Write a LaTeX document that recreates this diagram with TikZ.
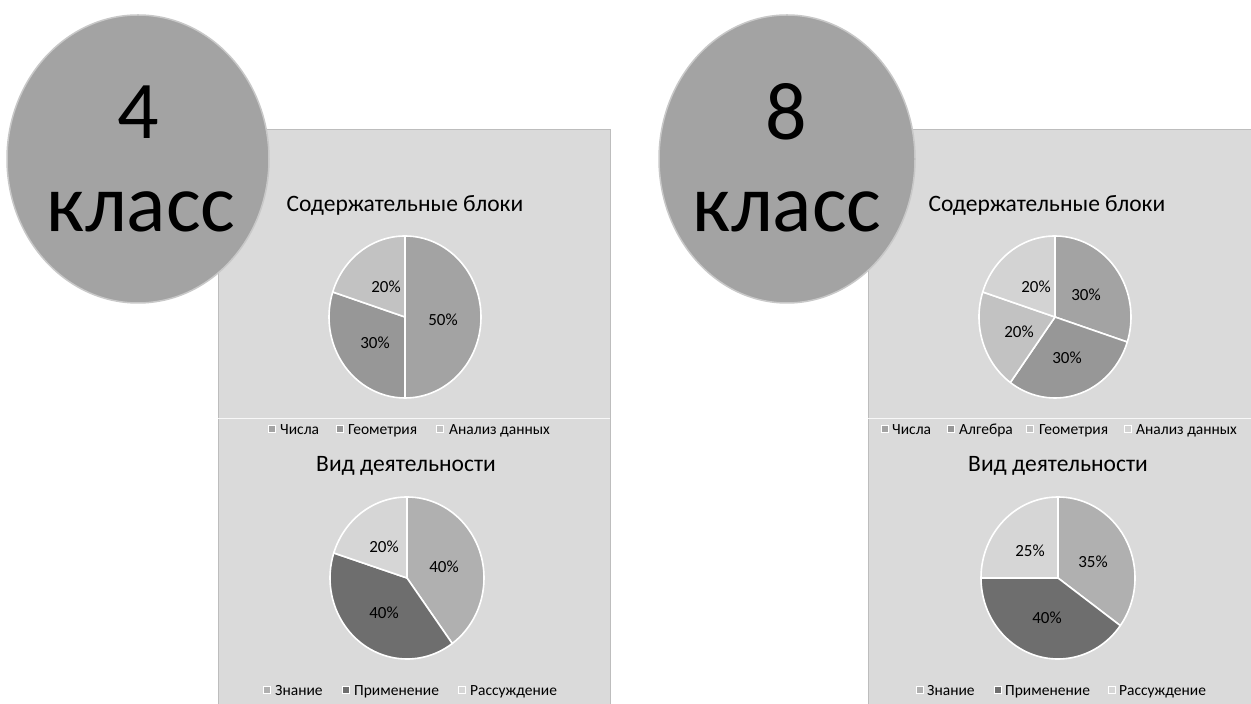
\documentclass[tikz,border=0pt]{standalone}
\usepackage{fontspec}
\setmainfont{Carlito}
\usepackage{tikz}
\definecolor{panel_gray}{HTML}{DADADA}
\definecolor{panel_edge}{HTML}{BDBDBD}
\definecolor{oval_gray}{HTML}{A3A3A3}
\definecolor{oval_edge}{HTML}{C8C8C8}
\definecolor{num_gray}{HTML}{A3A3A3}
\definecolor{alg_gray}{HTML}{979797}
\definecolor{geo_gray}{HTML}{C2C2C2}
\definecolor{data_gray}{HTML}{D3D3D3}
\definecolor{know_gray}{HTML}{B0B0B0}
\definecolor{apply_gray}{HTML}{6E6E6E}
\definecolor{reason_gray}{HTML}{D6D6D6}

\begin{document}
\begin{tikzpicture}[x=1pt, y=1pt,
  every node/.style={font=\fontsize{15.5}{18}\selectfont, inner sep=0pt},
  slice/.style={draw=white, line width=1.6pt, line join=round},
  share/.style={font=\fontsize{17}{20}\selectfont},
  key/.style={minimum size=7pt, inner sep=0pt, draw=white, line width=0.4pt},
  entry/.style={anchor=base west},
  title/.style={font=\fontsize{23.5}{28}\selectfont},
  big/.style={font=\fontsize{82}{90}\selectfont}]

  \useasboundingbox (0,0) rectangle (1251,704);
  \fill[white] (0,0) rectangle (1251,704);

  % Left panel: 4 класс
  \filldraw[fill=panel_gray, draw=panel_edge, line width=1pt] (218,-2) rectangle (610,574);
  \draw[white!80!panel_gray, line width=1pt] (218,285) -- (610,285);

  \filldraw[fill=oval_gray, draw=oval_edge, line width=1.5pt] (138,545) ellipse [x radius=131pt, y radius=144pt];
  \node[big] (g4) at (138,592) {4};
  \node[big] (k4) at (141,492) {класс};

  \node[title] (t4a) at (405,499) {Содержательные блоки};
  \coordinate (p4a) at (405,387);
  \filldraw[slice, fill=num_gray] (p4a) -- ++(90:76pt and 81pt)
    arc[start angle=90, end angle=-90, x radius=76pt, y radius=81pt] -- cycle;
  \filldraw[slice, fill=alg_gray] (p4a) -- ++(-90:76pt and 81pt)
    arc[start angle=-90, end angle=-198, x radius=76pt, y radius=81pt] -- cycle;
  \filldraw[slice, fill=geo_gray] (p4a) -- ++(162:76pt and 81pt)
    arc[start angle=162, end angle=90, x radius=76pt, y radius=81pt] -- cycle;
  \node[share] (v4a1) at (443,384) {50\%};
  \node[share] (v4a2) at (375,361) {30\%};
  \node[share] (v4a3) at (386,417) {20\%};

  \node[key, fill=num_gray] (s4a1) at (272,275) {};
  \node[entry] (l4a1) at (280,269.5) {Числа};
  \node[key, fill=alg_gray] (s4a2) at (340,275) {};
  \node[entry] (l4a2) at (348,269.5) {Геометрия};
  \node[key, fill=geo_gray] (s4a3) at (440,275) {};
  \node[entry] (l4a3) at (449,269.5) {Анализ данных};

  \node[title] (t4b) at (406,238) {Вид деятельности};
  \coordinate (p4b) at (407,126);
  \filldraw[slice, fill=know_gray] (p4b) -- ++(90:77pt and 81pt)
    arc[start angle=90, end angle=-54, x radius=77pt, y radius=81pt] -- cycle;
  \filldraw[slice, fill=apply_gray] (p4b) -- ++(-54:77pt and 81pt)
    arc[start angle=-54, end angle=-198, x radius=77pt, y radius=81pt] -- cycle;
  \filldraw[slice, fill=reason_gray] (p4b) -- ++(162:77pt and 81pt)
    arc[start angle=162, end angle=90, x radius=77pt, y radius=81pt] -- cycle;
  \node[share] (v4b1) at (444,137) {40\%};
  \node[share] (v4b2) at (384,91) {40\%};
  \node[share] (v4b3) at (384,157) {20\%};

  \node[key, fill=know_gray] (s4b1) at (267,14) {};
  \node[entry] (l4b1) at (275,8.5) {Знание};
  \node[key, fill=apply_gray] (s4b2) at (346,14) {};
  \node[entry] (l4b2) at (354,8.5) {Применение};
  \node[key, fill=reason_gray] (s4b3) at (462,14) {};
  \node[entry] (l4b3) at (470,8.5) {Рассуждение};

  % Right panel: 8 класс
  \filldraw[fill=panel_gray, draw=panel_edge, line width=1pt] (868,-2) rectangle (1253,574);
  \draw[white!80!panel_gray, line width=1pt] (868,285) -- (1253,285);

  \filldraw[fill=oval_gray, draw=oval_edge, line width=1.5pt] (787,545) ellipse [x radius=128pt, y radius=144pt];
  \node[big] (g8) at (786,592) {8};
  \node[big] (k8) at (787,492) {класс};

  \node[title] (t8a) at (1047,499) {Содержательные блоки};
  \coordinate (p8a) at (1055,387);
  \filldraw[slice, fill=num_gray] (p8a) -- ++(90:76pt and 81pt)
    arc[start angle=90, end angle=-18, x radius=76pt, y radius=81pt] -- cycle;
  \filldraw[slice, fill=alg_gray] (p8a) -- ++(-18:76pt and 81pt)
    arc[start angle=-18, end angle=-126, x radius=76pt, y radius=81pt] -- cycle;
  \filldraw[slice, fill=geo_gray] (p8a) -- ++(-126:76pt and 81pt)
    arc[start angle=-126, end angle=-198, x radius=76pt, y radius=81pt] -- cycle;
  \filldraw[slice, fill=data_gray] (p8a) -- ++(162:76pt and 81pt)
    arc[start angle=162, end angle=90, x radius=76pt, y radius=81pt] -- cycle;
  \node[share] (v8a1) at (1086,409) {30\%};
  \node[share] (v8a2) at (1067,346) {30\%};
  \node[share] (v8a3) at (1019,372) {20\%};
  \node[share] (v8a4) at (1036,417) {20\%};

  \node[key, fill=num_gray] (s8a1) at (885,275) {};
  \node[entry] (l8a1) at (892,269.5) {Числа};
  \node[key, fill=alg_gray] (s8a2) at (951,275) {};
  \node[entry] (l8a2) at (959,269.5) {Алгебра};
  \node[key, fill=geo_gray] (s8a3) at (1030,275) {};
  \node[entry] (l8a3) at (1039,269.5) {Геометрия};
  \node[key, fill=data_gray] (s8a4) at (1128,275) {};
  \node[entry] (l8a4) at (1136,269.5) {Анализ данных};

  \node[title] (t8b) at (1058,238) {Вид деятельности};
  \coordinate (p8b) at (1058,126);
  \filldraw[slice, fill=know_gray] (p8b) -- ++(90:77pt and 81pt)
    arc[start angle=90, end angle=-36, x radius=77pt, y radius=81pt] -- cycle;
  \filldraw[slice, fill=apply_gray] (p8b) -- ++(-36:77pt and 81pt)
    arc[start angle=-36, end angle=-180, x radius=77pt, y radius=81pt] -- cycle;
  \filldraw[slice, fill=reason_gray] (p8b) -- ++(180:77pt and 81pt)
    arc[start angle=180, end angle=90, x radius=77pt, y radius=81pt] -- cycle;
  \node[share] (v8b1) at (1093,142) {35\%};
  \node[share] (v8b2) at (1047,86) {40\%};
  \node[share] (v8b3) at (1030,153) {25\%};

  \node[key, fill=know_gray] (s8b1) at (920,14) {};
  \node[entry] (l8b1) at (927,8.5) {Знание};
  \node[key, fill=apply_gray] (s8b2) at (998,14) {};
  \node[entry] (l8b2) at (1005,8.5) {Применение};
  \node[key, fill=reason_gray] (s8b3) at (1112,14) {};
  \node[entry] (l8b3) at (1119,8.5) {Рассуждение};

\end{tikzpicture}
\end{document}
